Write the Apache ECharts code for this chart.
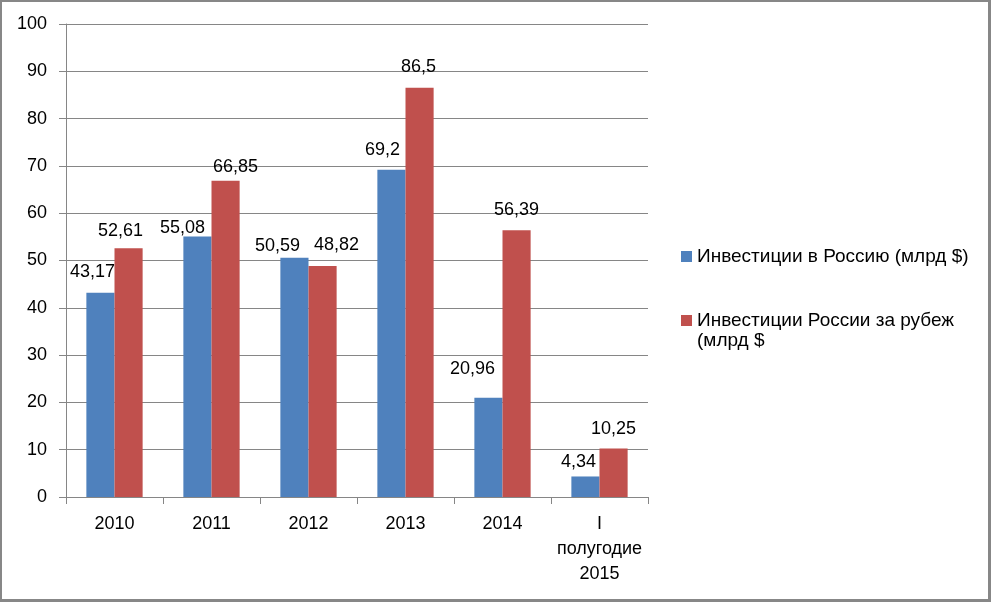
<!DOCTYPE html>
<html>
<head>
<meta charset="utf-8">
<script src="https://cdn.jsdelivr.net/npm/echarts@6/dist/echarts.min.js"></script>
<style>
html,body{margin:0;padding:0;background:#fff;}
#chart{width:991px;height:602px;}
</style>
</head>
<body>
<div id="chart"></div>
<script>
// ---- data ----
const categories = ['2010', '2011', '2012', '2013', '2014', 'I\nполугодие\n2015'];
const seriesNames = ['Инвестиции в Россию (млрд $)', 'Инвестиции России за рубеж\n(млрд $'];
const investIn = [43.17, 55.08, 50.59, 69.2, 20.96, 4.34];
const investOut = [52.61, 66.85, 48.82, 86.5, 56.39, 10.25];
const yTicks = { min: 0, max: 100, interval: 10 };

// ---- label layout (manual nudges as in the original) ----
const inLabelNudge = [[-8, -7], [-15, 6], [-17, 2], [-9, -6], [-16, -15], [-7, 0]];
const outLabelNudge = [[-8, -3], [10, 0], [14, -7], [-1, -7], [0, -6], [0, -5]];

const FONT = 'Liberation Sans';
const GRAY = '#868686';
const BLUE = '#4F81BD';
const RED = '#C0504D';

const fmt = p => String(p.value).replace('.', ',');

function mkData(vals, nudge) {
  return vals.map((v, i) => ({ value: v, label: { offset: nudge[i] } }));
}

const legendText = { fontFamily: FONT, fontSize: 19, color: '#000', lineHeight: 20 };

const chart = echarts.init(document.getElementById('chart'), null, { renderer: 'canvas' });
chart.setOption({
  animation: false,
  backgroundColor: '#fff',
  textStyle: { fontFamily: FONT },
  grid: { left: 66, right: 343, top: 24, bottom: 105 },
  legend: [
    {
      orient: 'vertical', left: 681, top: 246.5, padding: 0,
      itemWidth: 11, itemHeight: 11, icon: 'rect', itemGap: 5,
      data: [seriesNames[0]],
      textStyle: legendText
    },
    {
      orient: 'vertical', left: 681, top: 290.5, padding: 0,
      itemWidth: 11, itemHeight: 11, icon: 'rect', itemGap: 5,
      data: [seriesNames[1]],
      formatter: name => ' \n' + name,
      textStyle: legendText
    }
  ],
  xAxis: {
    type: 'category',
    data: categories,
    boundaryGap: true,
    axisLine: { show: true, lineStyle: { color: GRAY, width: 1 } },
    axisTick: { show: true, length: 7, lineStyle: { color: GRAY } },
    axisLabel: { color: '#000', fontSize: 18, fontFamily: FONT, margin: 15, lineHeight: 25, interval: 0 },
    splitLine: { show: false }
  },
  yAxis: {
    type: 'value',
    min: yTicks.min, max: yTicks.max, interval: yTicks.interval,
    axisLine: { show: true, lineStyle: { color: GRAY, width: 1 } },
    axisTick: { show: true, length: 7, lineStyle: { color: GRAY } },
    axisLabel: { color: '#000', fontSize: 18, fontFamily: FONT, margin: 19 },
    splitLine: { show: true, lineStyle: { color: GRAY, width: 1 } }
  },
  series: [
    {
      name: seriesNames[0], type: 'bar',
      data: mkData(investIn, inLabelNudge),
      itemStyle: { color: BLUE },
      barGap: '0%', barCategoryGap: '42%',
      label: { show: true, position: 'top', distance: 5, formatter: fmt, color: '#000', fontSize: 18, fontFamily: FONT }
    },
    {
      name: seriesNames[1], type: 'bar',
      data: mkData(investOut, outLabelNudge),
      itemStyle: { color: RED },
      barGap: '0%', barCategoryGap: '42%',
      label: { show: true, position: 'top', distance: 5, formatter: fmt, color: '#000', fontSize: 18, fontFamily: FONT }
    }
  ],
  graphic: [
    { type: 'rect', shape: { x: 0, y: 0, width: 991, height: 2 }, style: { fill: '#878787' }, silent: true },
    { type: 'rect', shape: { x: 0, y: 0, width: 2, height: 602 }, style: { fill: '#878787' }, silent: true },
    { type: 'rect', shape: { x: 988, y: 0, width: 3, height: 602 }, style: { fill: '#878787' }, silent: true },
    { type: 'rect', shape: { x: 0, y: 599, width: 991, height: 3 }, style: { fill: '#878787' }, silent: true }
  ]
});
</script>
</body>
</html>
